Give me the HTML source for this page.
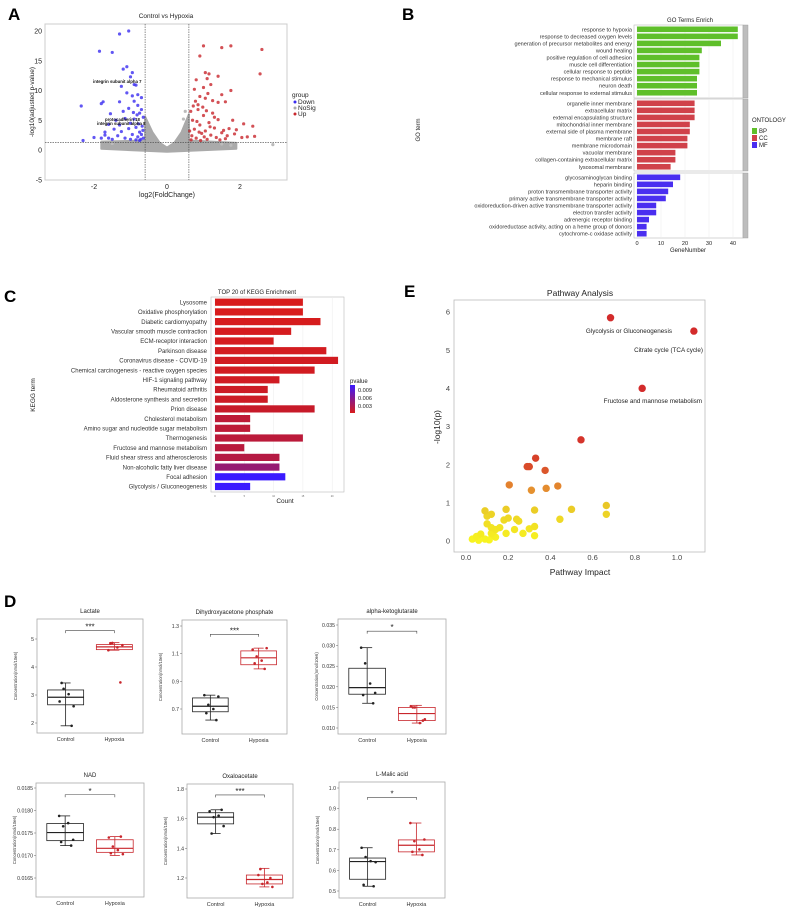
<!DOCTYPE html>
<html><head><meta charset="utf-8">
<style>
html,body{margin:0;padding:0;background:#fff;}
svg{display:block;font-family:"Liberation Sans",Arial,sans-serif;}
</style></head>
<body>
<svg id="fig" width="798" height="910" viewBox="0 0 798 910"></svg>
<script>
// ---------- DATA ----------
// Panel A volcano
const volDown = [[-2.35,7.4],[-2.3,1.6],[-2.0,2.1],[-1.85,16.6],[-1.8,7.8],[-1.75,8.1],[-1.5,16.4],[-1.55,6.1],[-1.3,19.5],[-1.05,20],[-1.1,14],[-1.2,13.6],[-1.0,12.3],[-0.95,13],[-0.9,11],[-0.85,10.9],[-1.25,10.7],[-1.3,8.1],[-1.1,9.6],[-0.95,9.1],[-0.8,9.3],[-0.9,8.2],[-1.4,5],[-1.6,4.3],[-1.7,3],[-1.8,2],[-1.45,3.5],[-1.2,6.5],[-1.05,7],[-0.8,7.5],[-0.75,6.2],[-0.7,8.8],[-0.65,5.5],[-1.6,2],[-1.5,1.8],[-1.35,2.4],[-1.25,3.1],[-1.15,2],[-1.05,3.6],[-1.0,4.5],[-0.95,2.6],[-0.9,5.2],[-0.85,3.8],[-0.8,2.2],[-0.78,4.4],[-0.75,3],[-0.72,1.8],[-0.7,2.6],[-0.68,4],[-0.66,3.3],[-0.65,2],[-0.85,1.7],[-1.0,1.8],[-0.92,6.3],[-0.7,6.8],[-1.15,5.3],[-1.3,4.2],[-1.7,2.5],[-0.82,5.9],[-0.75,1.6]];
const volUp = [[2.6,16.9],[2.55,12.8],[1.75,17.5],[1.5,17.2],[1.0,17.5],[0.9,15.8],[1.05,13],[1.15,12.8],[1.1,12],[1.4,12.4],[0.8,11.8],[0.75,10.2],[1.2,11],[1.75,10],[1.5,9.3],[1.25,8.3],[0.9,9],[1.05,8.7],[1.4,8],[1.6,8.1],[1.8,5],[2.1,4.4],[2.35,4],[1.9,3.4],[2.4,2.3],[2.05,2.1],[1.65,2.4],[1.55,3.3],[0.65,6.5],[0.7,5],[0.75,3.5],[0.8,2],[0.85,6.8],[0.9,4.2],[0.95,2.8],[1.0,5.8],[1.05,3.2],[1.1,1.8],[1.15,4.6],[1.2,2.5],[1.25,6.2],[1.3,3.7],[1.35,2.1],[1.4,5.1],[1.45,1.7],[1.5,2.9],[1.6,1.9],[1.7,3.6],[0.68,2.4],[0.72,7.4],[0.78,8.2],[0.82,4.8],[0.88,3],[0.92,1.6],[0.98,7.2],[1.02,2.2],[1.08,6.6],[1.12,9.5],[1.18,3.9],[1.3,5.5],[1.85,2.7],[2.2,2.2],[0.62,3.2],[0.66,1.7],[1.0,10.5],[0.85,7.6]];
const volNoSigOutline = [[-1.8,1.4],[-0.6,1.6],[-0.6,5.6],[-0.4,3],[-0.2,1.2],[0,0.4],[0.2,1.2],[0.4,3],[0.6,6],[0.6,1.6],[1.9,1.2],[1.9,0.2],[0,-0.3],[-1.8,0.2]];
const volNoSigExtra = [[2.9,0.9],[1.75,0.8],[1.5,1.0],[-1.5,1.1],[0.5,6.5],[0.45,5.2]];
// Panel B GO
const goTermsBP = ["response to hypoxia","response to decreased oxygen levels","generation of precursor metabolites and energy","wound healing","positive regulation of cell adhesion","muscle cell differentiation","cellular response to peptide","response to mechanical stimulus","neuron death","cellular response to external stimulus"];
const goCountsBP = [42,42,35,27,26,26,26,25,25,25];
const goTermsCC = ["organelle inner membrane","extracellular matrix","external encapsulating structure","mitochondrial inner membrane","external side of plasma membrane","membrane raft","membrane microdomain","vacuolar membrane","collagen-containing extracellular matrix","lysosomal membrane"];
const goCountsCC = [24,24,24,22,22,21,21,16,16,14];
const goTermsMF = ["glycosaminoglycan binding","heparin binding","proton transmembrane transporter activity","primary active transmembrane transporter activity","oxidoreduction-driven active transmembrane transporter activity","electron transfer activity","adrenergic receptor binding","oxidoreductase activity, acting on a heme group of donors","cytochrome-c oxidase activity"];
const goCountsMF = [18,15,13,12,8,8,5,4,4];
const goTicks = [0,10,20,30,40];
// Panel C KEGG
const keggTerms = ["Lysosome","Oxidative phosphorylation","Diabetic cardiomyopathy","Vascular smooth muscle contraction","ECM-receptor interaction","Parkinson disease","Coronavirus disease - COVID-19","Chemical carcinogenesis - reactive oxygen species","HIF-1 signaling pathway","Rheumatoid arthritis","Aldosterone synthesis and secretion","Prion disease","Cholesterol metabolism","Amino sugar and nucleotide sugar metabolism","Thermogenesis","Fructose and mannose metabolism","Fluid shear stress and atherosclerosis","Non-alcoholic fatty liver disease","Focal adhesion","Glycolysis / Gluconeogenesis"];
const keggCounts = [15,15,18,13,10,19,21,17,11,9,9,17,6,6,15,5,11,11,12,6];
const keggPvals = [0.0008,0.0008,0.0009,0.001,0.001,0.0011,0.0012,0.0012,0.0013,0.0015,0.0015,0.0018,0.0024,0.0024,0.0025,0.0026,0.0028,0.0045,0.0098,0.0099];
const keggTicks = [0,5,10,15,20];
const keggLegendTicks = [0.009,0.006,0.003];
// Panel E pathway
const pathImpact = [0.685,1.08,0.835,0.545,0.33,0.29,0.30,0.375,0.205,0.31,0.38,0.435,0.665,0.665,0.50,0.325,0.19,0.09,0.445,0.12,0.10,0.20,0.24,0.25,0.18,0.30,0.325,0.325,0.27,0.23,0.19,0.14,0.12,0.10,0.12,0.14,0.07,0.05,0.03,0.06,0.09,0.11,0.13,0.16];
const pathLogP = [5.85,5.5,4.0,2.65,2.17,1.95,1.95,1.85,1.47,1.33,1.38,1.44,0.93,0.70,0.83,0.81,0.83,0.79,0.57,0.70,0.65,0.60,0.57,0.52,0.55,0.32,0.38,0.14,0.20,0.30,0.20,0.10,0.20,0.45,0.35,0.30,0.18,0.12,0.05,0.02,0.05,0.03,0.15,0.35];
const pathLabels = [["Glycolysis or Gluconeogenesis",0],["Citrate cycle (TCA cycle)",1],["Fructose and mannose metabolism",2]];
const pathXTicks = [0,0.2,0.4,0.6,0.8,1.0];
const pathYTicks = [0,1,2,3,4,5,6];
// Panel D boxplots
const lactCtrl = [2.77,3.22,3.03,2.6,3.43,1.9], lactHyp = [4.6,4.86,4.7,4.78,4.85,3.45];
const dhapCtrl = [0.80,0.73,0.70,0.79,0.67,0.62], dhapHyp = [1.13,1.08,1.05,1.14,1.03,0.99];
const akgCtrl = [0.0295,0.0257,0.0208,0.0185,0.018,0.016], akgHyp = [0.0153,0.015,0.0112,0.0121,0.015,0.0118];
const nadCtrl = [0.01788,0.01765,0.01772,0.01735,0.0173,0.01722], nadHyp = [0.0174,0.0172,0.01712,0.01703,0.01705,0.01742];
const oxaCtrl = [1.65,1.61,1.62,1.55,1.5,1.66], oxaHyp = [1.22,1.16,1.17,1.14,1.26,1.2];
const malCtrl = [0.71,0.665,0.645,0.64,0.53,0.523], malHyp = [0.83,0.742,0.702,0.75,0.69,0.675];
const boxStats = {
  lact:[[2.65,2.92,3.18,1.9,3.43],[4.62,4.72,4.8,4.6,4.87]],
  dhap:[[0.68,0.72,0.78,0.62,0.80],[1.02,1.07,1.12,0.99,1.14]],
  akg:[[0.0182,0.0198,0.0245,0.016,0.0295],[0.0118,0.0135,0.015,0.0112,0.0155]],
  nad:[[0.01733,0.01751,0.01771,0.01722,0.01788],[0.01707,0.01716,0.01735,0.017,0.01742]],
  oxa:[[1.565,1.61,1.64,1.5,1.66],[1.16,1.19,1.22,1.14,1.265]],
  mal:[[0.557,0.643,0.66,0.523,0.71],[0.69,0.722,0.748,0.675,0.83]]
};
const lactTicks=[2,3,4,5], dhapTicks=[0.7,0.9,1.1,1.3], akgTicks=[0.010,0.015,0.020,0.025,0.030,0.035];
const nadTicks=[0.0165,0.0170,0.0175,0.0180,0.0185], oxaTicks=[1.2,1.4,1.6,1.8], malTicks=[0.5,0.6,0.7,0.8,0.9,1.0];

// ---------- HELPERS ----------
const NS="http://www.w3.org/2000/svg";
const S=document.getElementById('fig');
function mk(tag,a,p){const e=document.createElementNS(NS,tag);for(const k in a)e.setAttribute(k,a[k]);(p||S).appendChild(e);return e;}
function txt(x,y,s,size,anchor,name,extra){
  const e=mk('text',Object.assign({x:x,y:y,'font-size':size,'text-anchor':anchor||'start',fill:'#222'},extra||{}));
  e.textContent=s;
  
  
  return e;
}
function lin(d0,d1,r0,r1){return v=>r0+(v-d0)*(r1-r0)/(d1-d0);}
function hex2(c){return [parseInt(c.substr(1,2),16),parseInt(c.substr(3,2),16),parseInt(c.substr(5,2),16)];}
function mix(a,b,t){t=Math.max(0,Math.min(1,t));const A=hex2(a),B=hex2(b);return 'rgb('+A.map((v,i)=>Math.round(v+(B[i]-v)*t)).join(',')+')';}

// panel letters
[["A",8,20],["B",402,20],["C",4,302],["D",4,607],["E",404,297]].forEach(l=>{
  txt(l[1],l[2],l[0],17,'start','panel-label-'+l[0].toLowerCase(),{'font-weight':'bold',fill:'#000'});
});

// ---------- PANEL A ----------
(function(){
  const xA=lin(0,2,167,240), yA=lin(0,20,150,31);
  const g=mk('g',{});
  
  
  const r=mk('rect',{x:45,y:24,width:242,height:156,fill:'#fff',stroke:'#ccc','stroke-width':1},g);
  
  
  txt(166,18,'Control vs Hypoxia',6.5,'middle','volcano-title');
  [-5,0,5,10,15,20].forEach(v=>{txt(42,yA(v)+2.5,String(v),7,'end','volcano-y-tick');});
  [-2,0,2].forEach(v=>{txt(xA(v),189,String(v),7,'middle','volcano-x-tick');});
  txt(167,197,'log2(FoldChange)',7,'middle','volcano-x-axis-title');
  txt(0,0,'-log10(adjusted p-value)',6.5,'middle','volcano-y-axis-title',{transform:'translate(34,102) rotate(-90)'});
  const poly=mk('polygon',{points:volNoSigOutline.map(p=>xA(p[0])+','+yA(p[1])).join(' '),fill:'#aaa',stroke:'#aaa','stroke-width':2,'stroke-linejoin':'round'},g);
  
  
  volNoSigExtra.forEach(p=>{const c=mk('circle',{cx:xA(p[0]),cy:yA(p[1]),r:1.6,fill:'#bbb'},g);
    
    });
  volDown.forEach(p=>{const c=mk('circle',{cx:xA(p[0]),cy:yA(p[1]),r:1.6,fill:'#3a2cf0','fill-opacity':0.8},g);
    
    });
  volUp.forEach(p=>{const c=mk('circle',{cx:xA(p[0]),cy:yA(p[1]),r:1.6,fill:'#c8262c','fill-opacity':0.8},g);
    
    });
  [[xA(-0.6),24,xA(-0.6),180],[xA(0.6),24,xA(0.6),180],[45,yA(1.3),287,yA(1.3)]].forEach(l=>{
    const d=mk('line',{x1:l[0],y1:l[1],x2:l[2],y2:l[3],stroke:'#444','stroke-width':0.6,'stroke-dasharray':'1.5,1'},g);
    
    });
  txt(93,83,'integrin subunit alpha 7',4.3,'start','gene-label',{'font-weight':'bold',fill:'#111'});
  txt(105,121,'protocadherin 18',4.3,'start','gene-label',{'font-weight':'bold',fill:'#111'});
  txt(97,125,'integrin subunit alpha 8',4.3,'start','gene-label',{'font-weight':'bold',fill:'#111'});
  txt(292,97,'group',6.5,'start','legend-title');
  [['Down','#3a2cf0',104],['NoSig','#aaa',110],['Up','#c8262c',116]].forEach(e=>{
    const c=mk('circle',{cx:295,cy:e[2]-2,r:1.5,fill:e[1]});
    
    
    txt(298,e[2],e[0],6.5,'start','legend-entry');
  });
})();

// ---------- PANEL B ----------
(function(){
  const xB=lin(0,40,637,733);
  txt(690,22,'GO Terms Enrich',6,'middle','go-title');
  const facets=[[goTermsBP,goCountsBP,25,98,'#5fbf2a'],[goTermsCC,goCountsCC,99,171,'#d0414a'],[goTermsMF,goCountsMF,173,238,'#4a2ef0']];
  facets.forEach((f,fi)=>{
    const bg=mk('rect',{x:634,y:f[2],width:109,height:f[3]-f[2],fill:'#fff',stroke:'#bbb','stroke-width':0.6});
    
    
    goTicks.forEach(t=>{const l=mk('line',{x1:xB(t),y1:f[2],x2:xB(t),y2:f[3],stroke:'#ebebeb','stroke-width':0.5});
      
      });
    const st=mk('rect',{x:743,y:f[2],width:5,height:f[3]-f[2],fill:'#bdbdbd',stroke:'#999','stroke-width':0.4});
    
    
    const step=7.05, y0=f[2]+4.3;
    f[0].forEach((t,i)=>{
      const y=y0+i*step;
      const b=mk('rect',{x:xB(0),y:y-2.8,width:xB(f[1][i])-xB(0),height:5.6,fill:f[4]});
      
      
      txt(632,y+2,t,5.6,'end','go-term-label',{fill:'#333'});
    });
  });
  goTicks.forEach(t=>{txt(xB(t),245,String(t),5.6,'middle','go-x-tick');});
  txt(688,252,'GeneNumber',6,'middle','go-x-axis-title');
  txt(0,0,'GO term',6,'middle','go-y-axis-title',{transform:'translate(420,130) rotate(-90)'});
  txt(752,122,'ONTOLOGY',6,'start','go-legend-title');
  [['BP','#5fbf2a',133],['CC','#d0414a',140],['MF','#4a2ef0',147]].forEach(e=>{
    const r=mk('rect',{x:752,y:e[2]-5,width:5,height:6,fill:e[1]});
    
    
    txt(759,e[2],e[0],6,'start','go-legend-entry');
  });
})();

// ---------- PANEL C ----------
(function(){
  const xC=lin(0,5,215,244.3);
  const pc=p=>mix('#dd1c1c','#3a1aff',(p-0.002)/(0.0095-0.002)*(p<0.002?0:1)+(p<0.002?0:0));
  const colorOf=p=>p<0.002?mix('#d81c1c','#c41a2c',(p-0.0008)/0.0012):mix('#c41a2c','#3a1aff',(p-0.002)/0.0075);
  txt(257,294,'TOP 20 of KEGG Enrichment',6,'middle','kegg-title');
  const r=mk('rect',{x:211,y:297,width:133,height:195,fill:'#fff',stroke:'#bbb','stroke-width':0.6});
  
  
  keggTicks.forEach(t=>{const l=mk('line',{x1:xC(t),y1:297,x2:xC(t),y2:492,stroke:'#ebebeb','stroke-width':0.5});
    
    
    txt(xC(t),497,String(t),2.5,'middle','kegg-x-tick',{fill:'#666'});});
  keggTerms.forEach((t,i)=>{
    const y=302.2+i*9.7;
    const b=mk('rect',{x:xC(0),y:y-3.6,width:xC(keggCounts[i])-xC(0),height:7.2,fill:colorOf(keggPvals[i])});
    
    
    txt(207,y+2.2,t,6,'end','kegg-term-label',{fill:'#333'});
  });
  txt(285,503,'Count',6.5,'middle','kegg-x-axis-title');
  txt(0,0,'KEGG term',6.5,'middle','kegg-y-axis-title',{transform:'translate(35,395) rotate(-90)'});
  txt(350,383,'pvalue',6,'start','kegg-legend-title');
  const defs=mk('defs',{});
  const lg=mk('linearGradient',{id:'pg',x1:0,y1:0,x2:0,y2:1},defs);
  mk('stop',{offset:0,'stop-color':'#3a1aff'},lg);mk('stop',{offset:0.5,'stop-color':'#8a1a8a'},lg);mk('stop',{offset:1,'stop-color':'#d81c1c'},lg);
  const gb=mk('rect',{x:350,y:385,width:5,height:28,fill:'url(#pg)'});
  
  
  const yl=lin(0.009,0.003,390,406);
  keggLegendTicks.forEach(v=>{txt(358,yl(v)+2,v.toFixed(3),5.6,'start','kegg-legend-tick');});
})();

// ---------- PANEL E ----------
(function(){
  const xE=lin(0,1,466,677), yE=lin(0,6,541,312);
  txt(580,296,'Pathway Analysis',8.5,'middle','pathway-title');
  const r=mk('rect',{x:454,y:300,width:251,height:252,fill:'#fff',stroke:'#bbb','stroke-width':0.8});
  
  
  pathXTicks.forEach(t=>{txt(xE(t),560,t.toFixed(1),7.5,'middle','pathway-x-tick',{fill:'#444'});});
  pathYTicks.forEach(t=>{txt(450,yE(t)+2.7,String(t),7.5,'end','pathway-y-tick',{fill:'#444'});});
  txt(580,575,'Pathway Impact',8.5,'middle','pathway-x-axis-title');
  txt(0,0,'-log10(p)',8.5,'middle','pathway-y-axis-title',{transform:'translate(440,427) rotate(-90)'});
  const col=v=>v<1?mix('#f8f520','#e8c428',v):(v<2?mix('#e8a030','#d8452a',(v-1.2)/0.8):mix('#d8452a','#d32b2b',(v-2)/1));
  const idx=pathImpact.map((_,i)=>i).sort((a,b)=>pathLogP[a]-pathLogP[b]);
  idx.forEach(i=>{
    const c=mk('circle',{cx:xE(pathImpact[i]),cy:yE(pathLogP[i]),r:3.7,fill:col(pathLogP[i])});
    
    
  });
  const lx=[[0,672,333,'end'],[1,703,352,'end'],[2,702,403,'end']];
  lx.forEach(l=>{txt(l[1],l[2],pathLabels[l[0]][0],6.3,l[3],'pathway-label',{fill:'#222'});});
})();

// ---------- PANEL D ----------
function boxPanel(o){
  const g=mk('g',{});
  
  
  const r=mk('rect',{x:o.x0,y:o.y0,width:o.x1-o.x0,height:o.y1-o.y0,fill:'#fff',stroke:'#aaa','stroke-width':0.8},g);
  
  
  const y=lin(o.r[0],o.r[1],o.r[2],o.r[3]);
  const w=o.x1-o.x0, cx=[o.x0+w*0.27,o.x0+w*0.73];
  txt((o.x0+o.x1)/2,o.y0-6,o.title,6,'middle','boxplot-title');
  o.ticks.forEach(t=>{
    const tl=mk('line',{x1:o.x0-2,y1:y(t),x2:o.x0,y2:y(t),stroke:'#444','stroke-width':0.4},g);
    
    
    txt(o.x0-3,y(t)+2,t.toFixed(o.dec),5.2,'end','boxplot-y-tick',{fill:'#333'});
  });
  ['Control','Hypoxia'].forEach((n,i)=>{txt(cx[i],o.y1+8,n,5.5,'middle','boxplot-x-tick',{fill:'#333'});});
  txt(0,0,'Concentration(nmol/10e6)',4.2,'middle','boxplot-y-axis-title',{transform:'translate('+(o.x0-20)+','+((o.y0+o.y1)/2)+') rotate(-90)',fill:'#333'});
  const jit=[-6,-2,3,8,-4,6];
  [[o.ctrl,'#222',o.stats[0]],[o.hyp,'#c8262c',o.stats[1]]].forEach((s,i)=>{
    const c=cx[i], bw=w*0.34, st=s[2];
    const wl=mk('line',{x1:c,y1:y(st[3]),x2:c,y2:y(st[4]),stroke:s[1],'stroke-width':0.8},g);
    
    
    [st[3],st[4]].forEach(v=>{const cp=mk('line',{x1:c-5,y1:y(v),x2:c+5,y2:y(v),stroke:s[1],'stroke-width':0.8},g);
      
      });
    const bx=mk('rect',{x:c-bw/2,y:y(st[2]),width:bw,height:y(st[0])-y(st[2]),fill:'none',stroke:s[1],'stroke-width':0.8},g);
    
    
    const md=mk('line',{x1:c-bw/2,y1:y(st[1]),x2:c+bw/2,y2:y(st[1]),stroke:s[1],'stroke-width':1.2},g);
    
    
    s[0].forEach((v,k)=>{const p=mk('circle',{cx:c+jit[k],cy:y(v),r:1.3,fill:s[1]},g);
      
      });
  });
  const by=y(o.br);
  const br=mk('path',{d:'M'+cx[0]+','+(by+2.5)+'V'+by+'H'+cx[1]+'V'+(by+2.5),fill:'none',stroke:'#444','stroke-width':0.6},g);
  
  
  txt((cx[0]+cx[1])/2,by-1,o.stars,8,'middle','significance-stars',{fill:'#222'});
}
boxPanel({name:'lactate-boxplot',title:'Lactate',x0:37,x1:143,y0:619,y1:733,r:[5,2,639,723],ticks:lactTicks,dec:0,ctrl:lactCtrl,hyp:lactHyp,stats:boxStats.lact,br:5.3,stars:'***'});
boxPanel({name:'dhap-boxplot',title:'Dihydroxyacetone phosphate',x0:182,x1:287,y0:620,y1:734,r:[1.3,0.7,626,709],ticks:dhapTicks,dec:1,ctrl:dhapCtrl,hyp:dhapHyp,stats:boxStats.dhap,br:1.24,stars:'***'});
boxPanel({name:'akg-boxplot',title:'alpha-ketoglutarate',x0:338,x1:446,y0:619,y1:734,r:[0.035,0.010,625,728],ticks:akgTicks,dec:3,ctrl:akgCtrl,hyp:akgHyp,stats:boxStats.akg,br:0.0335,stars:'*'});
boxPanel({name:'nad-boxplot',title:'NAD',x0:36,x1:144,y0:783,y1:897,r:[0.0185,0.0165,788,878],ticks:nadTicks,dec:4,ctrl:nadCtrl,hyp:nadHyp,stats:boxStats.nad,br:0.01835,stars:'*'});
boxPanel({name:'oxaloacetate-boxplot',title:'Oxaloacetate',x0:187,x1:293,y0:784,y1:898,r:[1.8,1.2,789,878],ticks:oxaTicks,dec:1,ctrl:oxaCtrl,hyp:oxaHyp,stats:boxStats.oxa,br:1.76,stars:'***'});
boxPanel({name:'malic-acid-boxplot',title:'L-Malic acid',x0:339,x1:445,y0:782,y1:898,r:[1.0,0.5,788,891],ticks:malTicks,dec:1,ctrl:malCtrl,hyp:malHyp,stats:boxStats.mal,br:0.955,stars:'*'});
</script>
</body></html>
